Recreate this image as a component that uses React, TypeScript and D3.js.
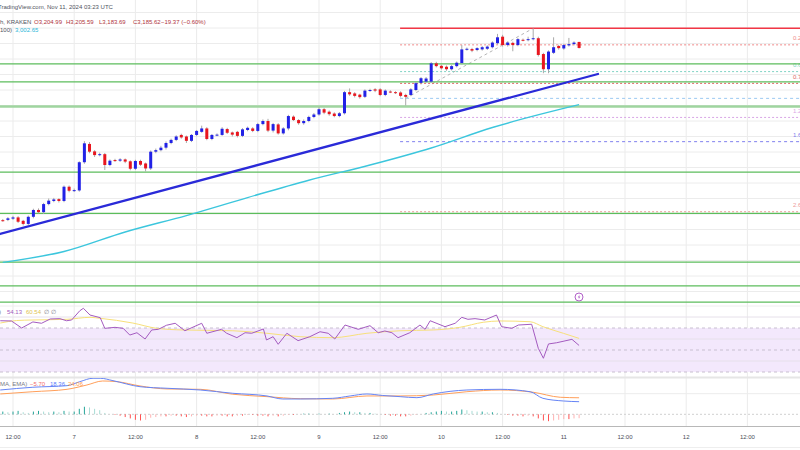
import React from "react";
import * as d3 from "d3";

const W = 800;
const H = 450;
const T0 = Date.UTC(2024, 10, 6, 10, 0);
const HOUR = 3600e3;
const FONT = "'Liberation Sans', Arial, sans-serif";

// hourly ETH/USD candles, Nov 6 10:00 UTC -> Nov 11 03:00 UTC
const opens = [2630,2631,2635,2639,2628,2618,2641,2663,2656,2682,2692,2698,2692,2738,2725,2726,2817,2876,2852,2840,2843,2808,2824,2822,2826,2820,2796,2821,2813,2797,2851,2856,2864,2879,2889,2905,2900,2886,2905,2915,2926,2892,2905,2905,2924,2913,2915,2902,2921,2926,2918,2940,2950,2919,2939,2910,2926,2964,2953,2943,2950,2963,2971,2988,2980,2974,2966,2975,3043,3039,3035,3028,3048,3052,3052,3034,3045,3043,3042,3034,3034,3050,3073,3077,3077,3136,3128,3125,3117,3127,3137,3181,3182,3179,3181,3183,3188,3201,3222,3195,3202,3195,3212,3211,3214,3217,3166,3117,3170,3192,3184,3194,3198,3204.99];
const highs = [2634,2640,2644,2643,2631,2645,2667,2668,2686,2700,2702,2701,2742,2742,2732,2820,2885,2882,2856,2848,2847,2826,2828,2830,2829,2823,2825,2825,2816,2855,2861,2870,2884,2893,2904,2909,2903,2908,2921,2935,2930,2908,2910,2930,2928,2916,2918,2927,2932,2930,2944,2955,2957,2944,2943,2930,2970,2968,2956,2955,2967,2976,2995,2992,2984,2978,2979,3047,3055,3043,3038,3052,3054,3056,3056,3052,3049,3046,3046,3038,3056,3076,3092,3092,3140,3141,3131,3129,3131,3142,3195,3187,3186,3188,3192,3194,3207,3231,3228,3207,3206,3218,3216,3222,3249,3222,3170,3178,3220,3196,3199,3218,3207,3205.59];
const lows = [2625,2627,2631,2621,2613,2614,2636,2652,2650,2678,2688,2687,2688,2720,2721,2722,2812,2846,2834,2836,2792,2804,2818,2818,2814,2791,2792,2805,2787,2792,2846,2852,2858,2875,2885,2893,2879,2882,2901,2912,2888,2888,2901,2902,2908,2900,2897,2898,2917,2914,2914,2936,2914,2913,2906,2906,2920,2950,2938,2938,2946,2959,2967,2972,2967,2962,2962,2971,3031,3026,3022,3024,3044,3043,3030,3030,3040,3037,3026,3000,3030,3046,3068,3073,3073,3123,3116,3112,3113,3123,3133,3177,3172,3175,3177,3179,3184,3197,3190,3190,3175,3191,3207,3207,3210,3158,3104,3104,3166,3180,3180,3190,3194,3183.69];
const closes = [2629,2636,2639,2625,2618,2641,2663,2656,2682,2693,2697,2692,2738,2725,2727,2817,2878,2851,2840,2843,2808,2822,2822,2826,2819,2796,2821,2809,2797,2851,2856,2864,2879,2889,2900,2897,2886,2905,2918,2926,2892,2905,2906,2925,2912,2906,2902,2923,2928,2918,2940,2950,2919,2940,2910,2926,2966,2953,2943,2950,2963,2971,2988,2977,2972,2966,2975,3043,3036,3031,3027,3048,3050,3048,3034,3048,3044,3041,3031,3028,3052,3072,3088,3087,3136,3127,3120,3117,3127,3138,3181,3183,3177,3185,3188,3190,3203,3220,3195,3203,3195,3214,3211,3214,3217,3163,3117,3174,3188,3185,3195,3198,3203,3185.62];

// EMA(100) read at candle indices
const emaIdx = [0, 12, 24, 36, 48, 60, 72, 84, 96, 113];
const emaVal = [2494, 2529, 2592, 2645, 2703, 2759, 2808, 2863, 2929, 3002.65];

// rising trend line (index, price)
const trendIdx = [-0.55, 116.7];
const trendVal = [2585.5, 3101.6];

// horizontal support / resistance levels
const greenLevels = [3134, 3076, 2785, 2652, 2495, 2418, 2366];
const thickLevel = 2997;

// Fibonacci tool
const fibHigh = 3249;
const fibLow = 3023;
const fibStartIdx = 77.9;
const fibLevels = [0, 0.236, 0.618, 0.786, 1, 1.272, 1.618, 2.618];
const fibColors = ["#f23645", "#f08a8a", "#7fd3c4", "#e06666", "#9cc9f2", "#d9a6e6", "#8080ee", "#ee9a9a"];
const fibDash = ["", "2,2", "2,2", "2,2", "3,3", "2,2", "3,3", "2,2"];
const fibShowLabel = [false, true, true, true, false, true, true, true];
const fibTrendIdx = [79, 104];

// RSI(14)
const rsiIdx = [-0.5,1.7,3.7,5.9,7.6,9.3,11.2,12.5,13.5,15.1,15.8,17.1,19.1,20,22,23.6,24.9,26.3,27.9,29.2,30.5,32.1,33.8,35.7,39,40,42.9,43.9,45.9,47.5,48.8,51.1,51.7,53,54,55.7,57.9,60.2,62.2,63.8,65.1,67.1,69.7,72,73.6,74.9,76.3,77.5,79.8,81.8,82.8,83.8,86.7,88.7,90,91.2,92.6,94.5,96.8,97.8,99.8,101.1,103.7,105,106,107,108.6,111.6,113];
const rsiVal = [76.6,76.4,70,75.5,74.3,78.2,78.5,76.6,77.3,85.7,87.9,81.8,79.4,69.7,70.6,69.7,63.6,65.7,60,68.2,68.8,72.5,74.3,67.5,74.3,65.2,68.8,65.2,61.2,65.7,65.2,69.1,59.1,62.1,55.2,65.2,58.5,62.1,66.6,65.2,60,72.7,68.8,72.1,65.7,67.3,65.7,61.2,65.7,72.7,68.8,76.6,71.2,74.3,79.7,77.9,78.5,77.3,81.8,71.2,69.7,72.7,73.4,51.5,42.5,55.5,56.6,59.7,54.13];
const rsiMaIdx = [-0.5,2.7,5.9,12.6,17.1,19.1,25.5,30.2,35.3,45.1,51.8,58.3,64.7,71.4,77.9,84.4,89.6,94.2,97.5,103.4,105.9,109.9,113];
const rsiMaVal = [74.5,76.8,77.3,77.9,79.7,78.8,74.5,69.7,68.2,67.5,65.2,62.1,61.2,65.2,67.5,68.2,70.6,75.2,76.4,75.7,71.2,65.2,60.54];

// MACD(12,26,9)
const macdIdx = [-0.5,5.9,12.6,15.1,17.7,19.1,21.6,26.9,32.2,38.7,45.1,51.8,54.9,58.3,64.7,68.1,71.4,74.5,77.9,81.2,84.4,91,97.5,103.4,105.9,109.9,113];
const macdVal = [35.4,39.4,41.7,47.5,52.5,52.5,49,40.2,37.9,35.4,30.6,26.7,22.3,22.3,23.3,26.7,29.6,27.4,25.7,24.2,29.6,35.4,36.4,32.9,23.3,19.4,18.36];
const sigIdx = [-0.5,5.9,12.6,16.5,19.6,22.4,26.9,32.2,38.7,45.1,51.8,58.3,64.7,71.4,77.9,84.4,91,97.5,104,109.3,113];
const sigVal = [29.6,32.9,36.4,42.7,48.5,47.5,41.3,36.9,36.4,29.2,25.7,22.7,22.3,26.7,26.7,28.1,32.9,35.4,32.1,24.8,24.06];
const histVal = [4,3,4,5,3,2,4,5,4,3,4,3,5,4, 4,8,11,10,8,6, 2,0,-1,-2, -4,-6,-8,-9,-8,-5, -4,-3,-3,-2,-2,-3,-4,-3,-2,-2, -3,-3,-2,-2,-3,-3,-2,-2,-1,-1,-2, -2,-3,-2,-3,-2,-1,-1,0, 1,1,0,1,0,1,0,2,3, 4,3,3,2,2,1,0, -1,-2,-2,-3,-3,-2,-1,0, 2,3,4,5,4,4,5,7,6,5,4,4,3,3,2, 0,-1,-2,-2,-3,-2,-3,-6,-9,-10,-9,-8,-7,-7,-6,-5.7];

const headerLine1 = "TradingView.com, Nov 11, 2024 03:23 UTC";
const symbolText = "h, KRAKEN";
const ohlcTexts = ["O3,204.99", "H3,205.59", "L3,183.69", "C3,185.62", "\u221219.37 (\u22120.60%)"];
const emaLegend = ["100)", "3,002.65"];
const rsiLegend = [")", "54.13", "60.54", "\u2205", "\u2205"];
const macdLegend = ["MA, EMA)", "\u22125.70", "18.36", "24.06"];

export default function App() {
  const xt = d3.scaleUtc().domain([new Date(T0), new Date(T0 + 113 * HOUR)]).range([2.8, 579.1]);
  const xi = (i: number) => xt(new Date(T0 + i * HOUR));
  const yP = d3.scaleLinear().domain([2400, 3200]).range([291.5, 43.5]);
  const yR = d3.scaleLinear().domain([30, 70]).range([372, 328]);
  const yM = d3.scaleLinear().domain([0, 30]).range([414.3, 393.7]);

  const ticks = d3.utcHour.every(12)!.range(xt.invert(-5), xt.invert(W + 5));
  const priceGrid = d3.range(2300, 3401, 50);
  const rsiGrid = [80, 60, 40];

  const emaLine = d3.line<number>().x((_, k) => xi(emaIdx[k])).y((d) => yP(d)).curve(d3.curveMonotoneX)(emaVal) || "";
  const rsiLine = d3.line<number>().x((_, k) => xi(rsiIdx[k])).y((d) => yR(d))(rsiVal) || "";
  const rsiMaLine = d3.line<number>().x((_, k) => xi(rsiMaIdx[k])).y((d) => yR(d)).curve(d3.curveMonotoneX)(rsiMaVal) || "";
  const macdLine = d3.line<number>().x((_, k) => xi(macdIdx[k])).y((d) => yM(d)).curve(d3.curveMonotoneX)(macdVal) || "";
  const sigLine = d3.line<number>().x((_, k) => xi(sigIdx[k])).y((d) => yM(d)).curve(d3.curveMonotoneX)(sigVal) || "";

  const fibX0 = xi(fibStartIdx);
  const fmt = d3.format(",.2f");

  return (
    <svg width={W} height={H} style={{ position: "absolute", left: 0, top: 0, background: "#fff" }} fontFamily={FONT}>
      <defs>
        <clipPath id="mainClip"><rect x={0} y={0} width={W} height={306} /></clipPath>
        <clipPath id="rsiClip"><rect x={0} y={307} width={W} height={70} /></clipPath>
        <clipPath id="macdClip"><rect x={0} y={378} width={W} height={48} /></clipPath>
      </defs>
      <rect x={0} y={0} width={W} height={H} fill="#ffffff" />

      {/* vertical grid */}
      {ticks.map((t, k) => (
        <line key={"vg" + k} x1={xt(t)} x2={xt(t)} y1={0} y2={426} stroke="#ebebeb" strokeWidth={1} />
      ))}

      {/* main pane */}
      <g clipPath="url(#mainClip)">
        {priceGrid.map((p) => (
          <line key={"pg" + p} x1={0} x2={W} y1={yP(p)} y2={yP(p)} stroke="#ececec" strokeWidth={1} />
        ))}
        {/* fibonacci */}
        <line x1={xi(fibTrendIdx[0])} y1={yP(fibLow)} x2={xi(fibTrendIdx[1])} y2={yP(fibHigh)} stroke="#b5b5b5" strokeDasharray="3,3" strokeWidth={1} />
        {fibLevels.map((lv, k) => {
          const p = fibHigh - lv * (fibHigh - fibLow);
          const y = yP(p);
          return (
            <g key={"fib" + k}>
              <line x1={fibX0} x2={W} y1={y} y2={y} stroke={fibColors[k]} strokeWidth={k === 0 ? 1.6 : 1} strokeDasharray={fibDash[k] || undefined} />
              {fibShowLabel[k] && (
                <text x={793} y={y - 4.5} fontSize={6} fill={fibColors[k]}>{`${lv}(${fmt(p)})`}</text>
              )}
            </g>
          );
        })}
        {/* green levels */}
        <line x1={0} x2={W} y1={yP(thickLevel)} y2={yP(thickLevel)} stroke="#9fd59f" strokeWidth={2.6} />
        {greenLevels.map((p) => (
          <line key={"gl" + p} x1={0} x2={W} y1={yP(p)} y2={yP(p)} stroke="#5cbd5c" strokeWidth={1.2} />
        ))}
        {/* EMA 100 */}
        <path d={emaLine} fill="none" stroke="#3cc6dd" strokeWidth={1.4} />
        {/* trend line */}
        <line x1={xi(trendIdx[0])} y1={yP(trendVal[0])} x2={xi(trendIdx[1])} y2={yP(trendVal[1])} stroke="#2a2ad8" strokeWidth={2.3} strokeLinecap="round" />
        {/* candles */}
        {opens.map((o, i) => {
          const c = closes[i];
          const x = xi(i);
          const up = c >= o;
          const yTop = yP(Math.max(o, c));
          const yBot = yP(Math.min(o, c));
          return (
            <g key={"c" + i}>
              <line x1={x} x2={x} y1={yP(highs[i])} y2={yP(lows[i])} stroke="#a9a9a9" strokeWidth={1} />
              <rect x={x - 1.5} y={yTop} width={3} height={Math.max(1, yBot - yTop)} fill={up ? "#2222e6" : "#e8161e"} />
            </g>
          );
        })}
      </g>

      {/* idea marker */}
      <circle cx={579} cy={297} r={4} fill="#fff" stroke="#b160c8" strokeWidth={1} />
      <path d="M579.8,294.2 L577.8,297.4 L579.2,297.4 L578.4,299.8 L580.4,296.6 L579,296.6 Z" fill="#b160c8" />

      {/* pane separators */}
      <line x1={0} x2={W} y1={306} y2={306} stroke="#eeeeee" strokeWidth={1} />
      <line x1={0} x2={W} y1={377.5} y2={377.5} stroke="#e6e6e6" strokeWidth={2} />

      {/* RSI pane */}
      <g clipPath="url(#rsiClip)">
        <rect x={0} y={yR(70)} width={W} height={yR(30) - yR(70)} fill="#f3e8fc" />
        {rsiGrid.map((r) => (
          <line key={"rg" + r} x1={0} x2={W} y1={yR(r)} y2={yR(r)} stroke="#e6e0ea" strokeWidth={1} />
        ))}
        {[70, 50, 30].map((r) => (
          <line key={"rl" + r} x1={0} x2={W} y1={yR(r)} y2={yR(r)} stroke="#c8bfd0" strokeWidth={1} strokeDasharray="3,3" />
        ))}
        <path d={rsiMaLine} fill="none" stroke="#f7e07a" strokeWidth={1} />
        <path d={rsiLine} fill="none" stroke="#a45bc0" strokeWidth={1} />
      </g>
      <text y={314} fontSize={6}>
        <tspan x={-1} fill="#787b86">{rsiLegend[0]}</tspan>
        <tspan x={7} fill="#a45bc0">{rsiLegend[1]}</tspan>
        <tspan x={26} fill="#e0c250">{rsiLegend[2]}</tspan>
        <tspan x={44} fill="#787b86">{rsiLegend[3]}</tspan>
        <tspan x={51} fill="#787b86">{rsiLegend[4]}</tspan>
      </text>

      {/* MACD pane */}
      <g clipPath="url(#macdClip)">
        <line x1={0} x2={W} y1={yM(30)} y2={yM(30)} stroke="#ececec" strokeWidth={1} />
        <line x1={0} x2={W} y1={yM(0)} y2={yM(0)} stroke="#d0d0d0" strokeWidth={1} strokeDasharray="2,2" />
        {histVal.map((v, i) => {
          const prev = i > 0 ? histVal[i - 1] : v;
          const col = v >= 0 ? (v >= prev ? "#26a69a" : "#a8dcd5") : (v <= prev ? "#ff5252" : "#ffb3b3");
          const y0 = yM(0);
          const y1 = yM(v);
          return <rect key={"h" + i} x={xi(i) - 0.5} y={Math.min(y0, y1)} width={1} height={Math.abs(y1 - y0)} fill={col} />;
        })}
        <path d={sigLine} fill="none" stroke="#ff9f5a" strokeWidth={1} />
        <path d={macdLine} fill="none" stroke="#6684f5" strokeWidth={1} />
      </g>
      <text y={386} fontSize={6}>
        <tspan x={0} fill="#787b86">{macdLegend[0]}</tspan>
        <tspan x={30} fill="#f26a6a">{macdLegend[1]}</tspan>
        <tspan x={50} fill="#5b7cfa">{macdLegend[2]}</tspan>
        <tspan x={68} fill="#ff9b4a">{macdLegend[3]}</tspan>
      </text>

      {/* time axis */}
      <line x1={0} x2={W} y1={426.5} y2={426.5} stroke="#b8b8b8" strokeWidth={1} />
      <line x1={0} x2={W} y1={447.5} y2={447.5} stroke="#eeeeee" strokeWidth={1} />
      {ticks.map((t, k) => (
        <text key={"tl" + k} x={xt(t)} y={439} fontSize={6} textAnchor="middle" fill="#4a4d57">
          {t.getUTCHours() === 0 ? String(t.getUTCDate()) : "12:00"}
        </text>
      ))}

      {/* header */}
      <text x={-2} y={9} fontSize={6} fill="#50535e">{headerLine1}</text>
      <text y={24} fontSize={6}>
        <tspan x={0} fill="#50535e">{symbolText}</tspan>
        <tspan x={34} fill="#b0343c">{ohlcTexts[0]}</tspan>
        <tspan x={66} fill="#b0343c">{ohlcTexts[1]}</tspan>
        <tspan x={99} fill="#b0343c">{ohlcTexts[2]}</tspan>
        <tspan x={133} fill="#b0343c">{ohlcTexts[3]}</tspan>
        <tspan x={161} fill="#b0343c">{ohlcTexts[4]}</tspan>
      </text>
      <text y={32} fontSize={6}>
        <tspan x={0} fill="#50535e">{emaLegend[0]}</tspan>
        <tspan x={15} fill="#27b6d8">{emaLegend[1]}</tspan>
      </text>
    </svg>
  );
}
